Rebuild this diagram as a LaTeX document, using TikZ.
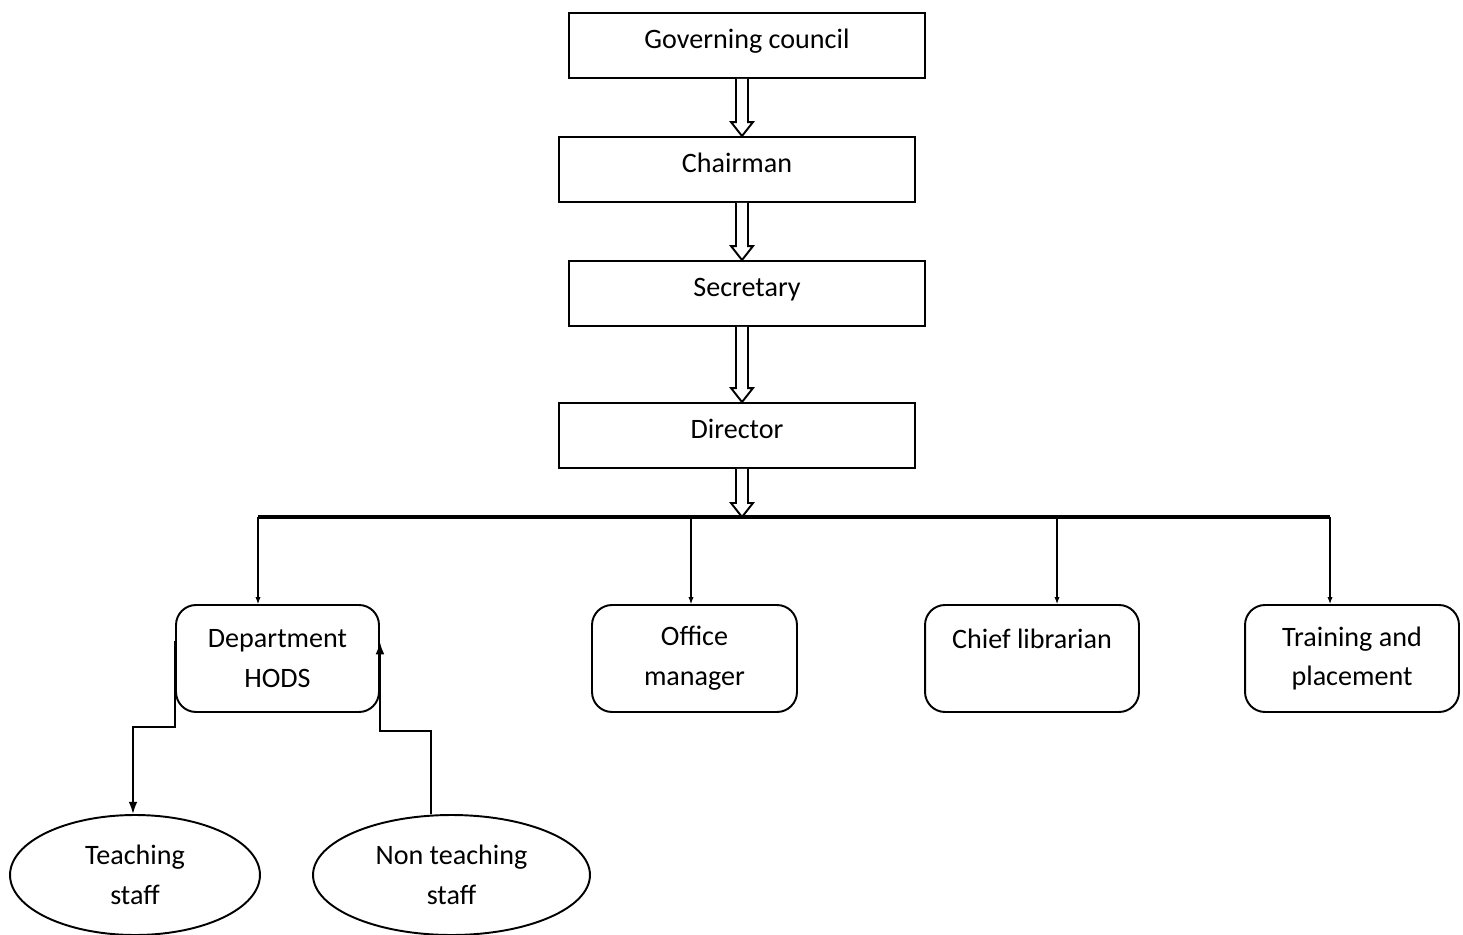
\documentclass[tikz,border=0pt]{standalone}
\usepackage{fontspec}
\setmainfont{Carlito}
\usetikzlibrary{arrows.meta, positioning, shapes.geometric, calc}

\tikzset{
  post/.style={draw, line width=1.1pt, minimum width=7.12cm, minimum height=1.3cm,
    text height=0.45cm, text depth=0.31cm, font=\fontsize{16}{22.7}\selectfont},
  unit/.style={draw, rounded corners=0.4cm, line width=1.1pt, minimum height=2.14cm,
    align=center, font=\fontsize{16}{22.7}\selectfont},
  staff/.style={draw, ellipse, line width=1.1pt, minimum height=2.4cm, inner sep=0pt,
    align=center, font=\fontsize{16}{22.7}\selectfont},
  drop/.style={line width=0.6pt, -{Latex[length=4pt,width=3pt]}},
  link/.style={line width=1.1pt, -{Latex[length=7pt,width=5pt]}}
}

% hollow block arrow pointing down
\newcommand{\hollowdown}[2]{%
  \draw[line width=1.1pt, fill=white] ($(#1)+(-6,0)$) -- ($(#2)+(-6,-14)$)
    -- ($(#2)+(-11,-14)$) -- (#2) -- ($(#2)+(11,-14)$) -- ($(#2)+(6,-14)$)
    -- ($(#1)+(6,0)$);}

\begin{document}
\begin{tikzpicture}[x=0.02cm, y=-0.02cm]
  \useasboundingbox (0,0) rectangle (1463,935);

  \node[post] (gc) at (747,45.5) {Governing council};
  \node[post] (ch) at (737,169.5) {Chairman};
  \node[post] (se) at (747,293.5) {Secretary};
  \node[post] (di) at (737,435.5) {Director};

  \coordinate (col) at (742,0);
  \coordinate (b1) at (258,517);
  \coordinate (b2) at (691,517);
  \coordinate (b3) at (1057,517);
  \coordinate (b4) at (1330,517);

  \node[unit, minimum width=4.06cm] (hods) at (277.5,658.5) {Department\\HODS};
  \node[unit, minimum width=4.1cm] (om) at (694.5,658.5) {Office\\manager};
  \node[unit, minimum width=4.28cm] (cl) at (1032,658.5) {Chief librarian\\~};
  \node[unit, minimum width=4.28cm] (tp) at (1352,658.5) {Training and\\placement};

  \node[staff, minimum width=5cm] (teach) at (135,875) {Teaching\\staff};
  \node[staff, minimum width=5.54cm] (nonteach) at (451.5,875) {Non teaching\\staff};

  \hollowdown{gc.south -| col}{ch.north -| col}
  \hollowdown{ch.south -| col}{se.north -| col}
  \hollowdown{se.south -| col}{di.north -| col}

  \draw[line width=2pt] (b1) -- (b4);
  \hollowdown{di.south -| col}{b1 -| col}

  \draw[drop] (b1) -- (b1 |- hods.north);
  \draw[drop] (b2) -- (b2 |- om.north);
  \draw[drop] (b3) -- (b3 |- cl.north);
  \draw[drop] (b4) -- (b4 |- tp.north);

  \coordinate (tturn) at (133,727);
  \coordinate (nturn) at (380,731);
  \draw[link] ([yshift=0.36cm]hods.west) |- (tturn) -- (tturn |- teach.north);
  \draw[link] ([xshift=-0.41cm]nonteach.north) |- (nturn) -- ([yshift=0.33cm]hods.east);
\end{tikzpicture}
\end{document}
